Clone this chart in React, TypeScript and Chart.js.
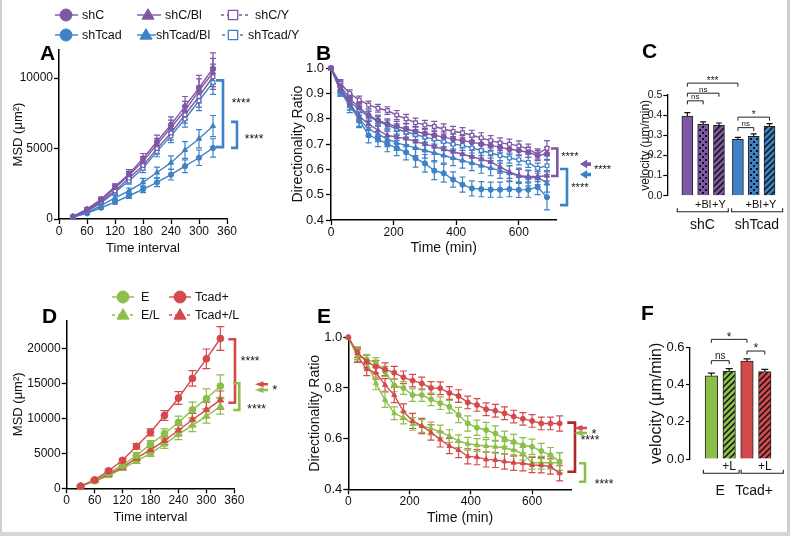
import React, { useEffect, useRef } from "react";
import { Chart, registerables } from "chart.js";

Chart.register(...registerables);

const W = 790;
const H = 536;
const FONT = '"Liberation Sans", Arial, Helvetica, sans-serif';
const PURPLE = "#7e57a5";
const BLUE = "#3d82c6";
const GREEN = "#8bbf4a";
const RED = "#d44a4c";
const DARKRED = "#b0262d";

// ---------------- Panel A : MSD (shC / shTcad) ----------------
const A_TIME = [30, 60, 90, 120, 150, 180, 210, 240, 270, 300, 330];
const A_SHC = [180, 700, 1400, 2300, 3200, 4300, 5500, 6700, 8000, 9300, 10700];
const A_SHC_ERR = [60, 100, 150, 200, 300, 350, 450, 550, 700, 900, 1100];
const A_SHC_BL = [170, 650, 1300, 2200, 3100, 4100, 5300, 6500, 7700, 9100, 10400];
const A_SHC_BL_ERR = [50, 90, 140, 200, 280, 330, 420, 520, 650, 850, 1000];
const A_SHC_Y = [170, 600, 1200, 2000, 2900, 3800, 5000, 6100, 7400, 8700, 10100];
const A_SHC_Y_ERR = [50, 90, 130, 180, 250, 320, 400, 500, 600, 750, 900];
const A_TCAD = [130, 400, 800, 1200, 1650, 2100, 2600, 3150, 3750, 4350, 5050];
const A_TCAD_ERR = [40, 60, 90, 130, 180, 230, 300, 380, 450, 550, 650];
const A_TCAD_BL = [140, 450, 950, 1500, 2000, 2600, 3300, 4000, 4900, 5700, 6600];
const A_TCAD_BL_ERR = [40, 70, 110, 150, 200, 280, 380, 480, 600, 650, 750];
const A_TCAD_Y = [150, 550, 1150, 1900, 2700, 3600, 4800, 5900, 7100, 8400, 9700];
const A_TCAD_Y_ERR = [50, 80, 120, 170, 230, 300, 380, 470, 570, 700, 850];
const A_X_TICKS = [0, 60, 120, 180, 240, 300, 360];
const A_Y_TICKS = [0, 5000, 10000];

// ---------------- Panel B : directionality (shC / shTcad) ----------------
const B_TIME = [0, 30, 60, 90, 120, 150, 180, 210, 240, 270, 300, 330, 360, 390, 420, 450, 480, 510, 540, 570, 600, 630, 660, 690];
const B_SHC = [1.0, 0.93, 0.88, 0.845, 0.815, 0.795, 0.78, 0.77, 0.76, 0.75, 0.742, 0.735, 0.728, 0.72, 0.714, 0.708, 0.7, 0.695, 0.688, 0.68, 0.675, 0.668, 0.655, 0.662];
const B_SHC_ERR = [0, 0.02, 0.02, 0.02, 0.02, 0.02, 0.02, 0.02, 0.02, 0.02, 0.02, 0.02, 0.02, 0.02, 0.02, 0.02, 0.02, 0.02, 0.02, 0.02, 0.02, 0.02, 0.02, 0.025];
const B_SHC_BL = [1.0, 0.92, 0.86, 0.81, 0.78, 0.755, 0.735, 0.728, 0.722, 0.71, 0.7, 0.69, 0.68, 0.67, 0.66, 0.65, 0.64, 0.63, 0.61, 0.59, 0.575, 0.572, 0.572, 0.575];
const B_SHC_BL_ERR = [0, 0.025, 0.025, 0.025, 0.025, 0.025, 0.025, 0.025, 0.025, 0.025, 0.025, 0.025, 0.025, 0.025, 0.025, 0.025, 0.025, 0.025, 0.025, 0.025, 0.025, 0.025, 0.02, 0.02];
const B_SHC_Y = [1.0, 0.94, 0.9, 0.875, 0.855, 0.842, 0.833, 0.815, 0.8, 0.785, 0.776, 0.77, 0.76, 0.75, 0.745, 0.735, 0.725, 0.714, 0.705, 0.7, 0.693, 0.68, 0.661, 0.684];
const B_SHC_Y_ERR = [0, 0.015, 0.015, 0.015, 0.015, 0.015, 0.015, 0.018, 0.018, 0.018, 0.018, 0.02, 0.02, 0.02, 0.02, 0.02, 0.02, 0.02, 0.02, 0.02, 0.02, 0.02, 0.02, 0.03];
const B_TCAD = [1.0, 0.91, 0.86, 0.795, 0.735, 0.72, 0.7, 0.685, 0.668, 0.644, 0.624, 0.595, 0.585, 0.56, 0.54, 0.525, 0.522, 0.52, 0.52, 0.522, 0.519, 0.52, 0.53, 0.49];
const B_TCAD_ERR = [0, 0.02, 0.025, 0.03, 0.03, 0.03, 0.03, 0.03, 0.03, 0.035, 0.035, 0.035, 0.035, 0.03, 0.03, 0.03, 0.03, 0.03, 0.03, 0.03, 0.03, 0.03, 0.03, 0.05];
const B_TCAD_BL = [1.0, 0.91, 0.85, 0.8, 0.76, 0.74, 0.72, 0.705, 0.695, 0.685, 0.675, 0.665, 0.655, 0.645, 0.635, 0.625, 0.615, 0.605, 0.595, 0.585, 0.575, 0.565, 0.57, 0.545];
const B_TCAD_BL_ERR = [0, 0.02, 0.025, 0.03, 0.03, 0.03, 0.03, 0.03, 0.03, 0.03, 0.03, 0.03, 0.03, 0.03, 0.03, 0.03, 0.03, 0.03, 0.03, 0.03, 0.03, 0.03, 0.03, 0.035];
const B_TCAD_Y = [1.0, 0.92, 0.87, 0.835, 0.81, 0.79, 0.775, 0.76, 0.748, 0.738, 0.728, 0.72, 0.71, 0.7, 0.695, 0.685, 0.675, 0.665, 0.655, 0.645, 0.638, 0.628, 0.605, 0.615];
const B_TCAD_Y_ERR = [0, 0.02, 0.02, 0.02, 0.02, 0.02, 0.02, 0.02, 0.02, 0.02, 0.02, 0.02, 0.02, 0.02, 0.02, 0.02, 0.02, 0.02, 0.02, 0.02, 0.02, 0.02, 0.02, 0.025];
const B_X_TICKS = [0, 200, 400, 600];
const B_Y_TICKS = [0.4, 0.5, 0.6, 0.7, 0.8, 0.9, 1.0];

// ---------------- Panel C : velocity bars ----------------
const C_GROUPS = ["shC", "shTcad"];
const C_TREATMENTS = ["", "+Bl", "+Y"];
const C_VALUES = [0.395, 0.355, 0.35, 0.28, 0.295, 0.345];
const C_ERR = [0.017, 0.012, 0.011, 0.01, 0.012, 0.013];
const C_Y_TICKS = [0.0, 0.1, 0.2, 0.3, 0.4, 0.5];
const C_SIG = [
  { a: 0, b: 3, y: 0.559, t: "***" },
  { a: 0, b: 2, y: 0.509, t: "ns" },
  { a: 0, b: 1, y: 0.471, t: "ns" },
  { a: 3, b: 5, y: 0.39, t: "*" },
  { a: 3, b: 4, y: 0.338, t: "ns" },
];

// ---------------- Panel D : MSD (E / Tcad+) ----------------
const D_TIME = [30, 60, 90, 120, 150, 180, 210, 240, 270, 300, 330];
const D_E = [300, 1100, 2200, 3300, 4700, 6300, 7800, 9400, 11200, 12800, 14600];
const D_E_ERR = [100, 150, 200, 300, 400, 500, 700, 900, 1100, 1400, 1600];
const D_EL = [300, 1000, 1800, 2800, 3900, 5000, 6300, 7700, 9000, 10300, 11700];
const D_EL_ERR = [100, 150, 200, 250, 350, 450, 600, 750, 900, 1000, 1100];
const D_TCAD = [300, 1200, 2500, 4000, 6000, 8000, 10400, 12900, 15700, 18500, 21400];
const D_TCAD_ERR = [100, 150, 200, 250, 400, 500, 700, 900, 1100, 1400, 1700];
const D_TCADL = [300, 1100, 2000, 3000, 4300, 5500, 6800, 8300, 9800, 11200, 12600];
const D_TCADL_ERR = [100, 150, 200, 250, 350, 450, 550, 700, 900, 1100, 1300];
const D_X_TICKS = [0, 60, 120, 180, 240, 300, 360];
const D_Y_TICKS = [0, 5000, 10000, 15000, 20000];

// ---------------- Panel E : directionality (E / Tcad+) ----------------
const E_TIME = [0, 30, 60, 90, 120, 150, 180, 210, 240, 270, 300, 330, 360, 390, 420, 450, 480, 510, 540, 570, 600, 630, 660, 690];
const E_TCAD = [1.0, 0.94, 0.904, 0.884, 0.874, 0.86, 0.842, 0.829, 0.818, 0.8, 0.799, 0.78, 0.768, 0.743, 0.733, 0.716, 0.71, 0.7, 0.687, 0.678, 0.67, 0.66, 0.66, 0.66];
const E_TCAD_ERR = [0, 0.02, 0.025, 0.025, 0.025, 0.025, 0.025, 0.025, 0.025, 0.025, 0.025, 0.025, 0.025, 0.025, 0.025, 0.025, 0.025, 0.025, 0.025, 0.025, 0.025, 0.025, 0.025, 0.03];
const E_E = [1.0, 0.93, 0.913, 0.9, 0.865, 0.81, 0.8, 0.772, 0.772, 0.755, 0.74, 0.726, 0.693, 0.66, 0.643, 0.634, 0.62, 0.6, 0.587, 0.574, 0.568, 0.551, 0.535, 0.51];
const E_E_ERR = [0, 0.025, 0.02, 0.02, 0.02, 0.025, 0.025, 0.025, 0.025, 0.025, 0.025, 0.025, 0.03, 0.03, 0.03, 0.03, 0.03, 0.03, 0.03, 0.03, 0.03, 0.03, 0.03, 0.035];
const E_EL = [1.0, 0.937, 0.904, 0.818, 0.753, 0.7, 0.683, 0.658, 0.65, 0.64, 0.628, 0.61, 0.59, 0.58, 0.575, 0.571, 0.568, 0.564, 0.555, 0.54, 0.505, 0.505, 0.505, 0.505];
const E_EL_ERR = [0, 0.025, 0.025, 0.025, 0.03, 0.025, 0.025, 0.025, 0.025, 0.025, 0.025, 0.025, 0.025, 0.025, 0.025, 0.025, 0.025, 0.025, 0.025, 0.025, 0.025, 0.025, 0.025, 0.04];
const E_TCADL = [1.0, 0.926, 0.874, 0.86, 0.812, 0.772, 0.707, 0.67, 0.65, 0.624, 0.597, 0.571, 0.555, 0.53, 0.527, 0.518, 0.516, 0.51, 0.505, 0.503, 0.496, 0.495, 0.49, 0.463];
const E_TCADL_ERR = [0, 0.025, 0.025, 0.025, 0.025, 0.03, 0.03, 0.03, 0.03, 0.03, 0.03, 0.03, 0.03, 0.03, 0.03, 0.03, 0.03, 0.03, 0.03, 0.03, 0.03, 0.03, 0.03, 0.03];
const E_X_TICKS = [0, 200, 400, 600];
const E_Y_TICKS = [0.4, 0.6, 0.8, 1.0];

// ---------------- Panel F : velocity bars ----------------
const F_GROUPS = ["E", "Tcad+"];
const F_TREATMENTS = ["", "+L"];
const F_VALUES = [0.449, 0.474, 0.528, 0.471];
const F_ERR = [0.014, 0.013, 0.012, 0.012];
const F_Y_TICKS = [0.0, 0.2, 0.4, 0.6];
const F_SIG = [
  { a: 0, b: 2, y: 0.645, t: "*" },
  { a: 0, b: 1, y: 0.53, t: "ns" },
  { a: 2, b: 3, y: 0.582, t: "*" },
];

// ---------------- drawing helpers ----------------
function drawMarker(ctx: any, style: string, x: number, y: number, r: number, color: string, open: boolean) {
  ctx.save();
  ctx.fillStyle = open ? "#fff" : color;
  ctx.strokeStyle = color;
  ctx.lineWidth = open ? 1.3 : 1;
  ctx.beginPath();
  if (style === "circle") {
    ctx.arc(x, y, r, 0, Math.PI * 2);
  } else if (style === "triangle") {
    ctx.moveTo(x, y - r * 1.15);
    ctx.lineTo(x + r * 1.1, y + r * 0.75);
    ctx.lineTo(x - r * 1.1, y + r * 0.75);
    ctx.closePath();
  } else {
    const s = r * 0.85;
    ctx.rect(x - s, y - s, 2 * s, 2 * s);
  }
  ctx.fill();
  ctx.stroke();
  ctx.restore();
}

function drawLegend(ctx: any, items: any[], size: number) {
  items.forEach((it) => {
    ctx.save();
    ctx.strokeStyle = it.color;
    ctx.lineWidth = 1.4;
    if (it.dashed) ctx.setLineDash([3, 3]);
    ctx.beginPath();
    ctx.moveTo(it.x0, it.y);
    ctx.lineTo(it.x1, it.y);
    ctx.stroke();
    ctx.restore();
    drawMarker(ctx, it.marker, it.mx, it.y, it.r, it.color, !!it.open);
    ctx.save();
    ctx.fillStyle = "#111";
    ctx.font = `${size}px ${FONT}`;
    ctx.textAlign = "left";
    ctx.textBaseline = "middle";
    ctx.fillText(it.label, it.tx, it.y + 0.5);
    ctx.restore();
  });
}

function drawLetter(ctx: any, t: string, x: number, y: number) {
  ctx.save();
  ctx.fillStyle = "#000";
  ctx.font = `bold 21px ${FONT}`;
  ctx.textAlign = "left";
  ctx.textBaseline = "alphabetic";
  ctx.fillText(t, x, y);
  ctx.restore();
}

function starText(ctx: any, t: string, x: number, cy: number, size: number, align = "center", color = "#111") {
  ctx.save();
  ctx.fillStyle = color;
  ctx.font = `${size}px ${FONT}`;
  ctx.textAlign = align;
  ctx.textBaseline = "alphabetic";
  ctx.fillText(t, x, cy + size * 0.55);
  ctx.restore();
}

function drawFlag(ctx: any, x: number, y: number, color: string, w = 11, h = 8) {
  ctx.save();
  ctx.fillStyle = color;
  ctx.beginPath();
  ctx.moveTo(x, y);
  ctx.lineTo(x + w * 0.65, y - h / 2);
  ctx.lineTo(x + w * 0.65, y - h * 0.2);
  ctx.lineTo(x + w, y - h * 0.2);
  ctx.lineTo(x + w, y + h * 0.2);
  ctx.lineTo(x + w * 0.65, y + h * 0.2);
  ctx.lineTo(x + w * 0.65, y + h / 2);
  ctx.closePath();
  ctx.fill();
  ctx.restore();
}

function drawLineDecor(chart: any, deco: any) {
  const ctx = chart.ctx;
  const sx = (v: number) => chart.scales.x.getPixelForValue(v);
  const sy = (v: number) => chart.scales.y.getPixelForValue(v);
  (deco.brackets || []).forEach((b: any) => {
    ctx.save();
    ctx.strokeStyle = b.color;
    ctx.lineWidth = b.width;
    ctx.lineJoin = "miter";
    ctx.beginPath();
    ctx.moveTo(sx(b.xArm), sy(b.y1));
    ctx.lineTo(sx(b.xLine), sy(b.y1));
    ctx.lineTo(sx(b.xLine), sy(b.y2));
    ctx.lineTo(sx(b.xArm), sy(b.y2));
    ctx.stroke();
    ctx.restore();
  });
  (deco.texts || []).forEach((t: any) => starText(ctx, t.t, sx(t.x), sy(t.y), t.size, t.align || "center"));
  (deco.flags || []).forEach((f: any) => drawFlag(ctx, sx(f.x), sy(f.y), f.color, f.w, f.h));
  if (deco.legend) drawLegend(ctx, deco.legend, deco.legendSize);
  if (deco.letter) drawLetter(ctx, deco.letter.t, deco.letter.x, deco.letter.y);
}

function linePlugin(id: string, capW: number, deco: any) {
  return {
    id,
    beforeDatasetsDraw(chart: any) {
      const ctx = chart.ctx;
      const ys = chart.scales.y;
      chart.data.datasets.forEach((ds: any, di: number) => {
        const meta = chart.getDatasetMeta(di);
        ctx.save();
        ctx.strokeStyle = ds.borderColor;
        ctx.lineWidth = 1.2;
        meta.data.forEach((pt: any, i: number) => {
          const v = ds.data[i].y;
          const e = ds.errors[i];
          if (!e) return;
          const yt = ys.getPixelForValue(v + e);
          const yb = ys.getPixelForValue(v - e);
          ctx.beginPath();
          ctx.moveTo(pt.x, yt);
          ctx.lineTo(pt.x, yb);
          ctx.moveTo(pt.x - capW / 2, yt);
          ctx.lineTo(pt.x + capW / 2, yt);
          ctx.moveTo(pt.x - capW / 2, yb);
          ctx.lineTo(pt.x + capW / 2, yb);
          ctx.stroke();
        });
        ctx.restore();
      });
    },
    afterDatasetsDraw(chart: any) {
      drawLineDecor(chart, deco);
    },
  };
}

function lineConfig(p: any) {
  const lh = p.titleSize * 1.2;
  const padLeft = p.yTitleX - lh / 2;
  const padBottom = H - p.xTitleY - lh / 2;
  return {
    type: "line",
    data: {
      datasets: p.series.map((s: any) => ({
        label: s.label,
        data: p.xs.map((x: number, i: number) => ({ x, y: s.data[i] })),
        errors: s.err,
        borderColor: s.color,
        backgroundColor: s.open ? "#fff" : s.color,
        pointBackgroundColor: s.open ? "#fff" : s.color,
        pointBorderColor: s.color,
        pointBorderWidth: s.open ? 1.2 : 1,
        pointStyle: s.marker,
        pointRadius: s.marker === "triangle" ? p.pointRadius + 0.4 : p.pointRadius,
        borderWidth: 1.4,
        tension: 0,
        clip: false,
      })),
    },
    options: {
      responsive: false,
      animation: false,
      devicePixelRatio: 1,
      events: [],
      layout: { padding: { left: padLeft, top: p.area.top, right: W - p.area.right, bottom: padBottom } },
      plugins: { legend: { display: false }, tooltip: { enabled: false }, title: { display: false } },
      scales: {
        x: {
          type: "linear",
          min: p.xMin,
          max: p.xMax,
          afterBuildTicks: (s: any) => {
            s.ticks = p.xTicks.map((v: number) => ({ value: v }));
          },
          afterFit: (s: any) => {
            s.height = H - padBottom - p.area.bottom;
          },
          grid: { display: true, drawOnChartArea: false, drawTicks: true, tickLength: 5, tickColor: "#000", tickWidth: 1.3 },
          border: { display: true, color: "#000", width: 1.5 },
          ticks: {
            color: "#111",
            font: { family: FONT, size: p.xTickSize },
            padding: 0,
            maxRotation: 0,
            autoSkip: false,
            callback: (v: any) => String(v),
          },
          title: { display: true, text: p.xTitle, color: "#111", font: { family: FONT, size: p.titleSize }, padding: 0 },
        },
        y: {
          type: "linear",
          min: p.yMin,
          max: p.yMax,
          afterBuildTicks: (s: any) => {
            s.ticks = p.yTicks.map((v: number) => ({ value: v }));
          },
          afterFit: (s: any) => {
            s.width = p.area.left - padLeft;
          },
          grid: { display: true, drawOnChartArea: false, drawTicks: true, tickLength: 5, tickColor: "#000", tickWidth: 1.3 },
          border: { display: true, color: "#000", width: 1.5 },
          ticks: {
            color: "#111",
            font: { family: FONT, size: p.yTickSize },
            padding: p.yTickPad,
            autoSkip: false,
            callback: (v: any) => (p.yDecimals ? Number(v).toFixed(p.yDecimals) : String(v)),
          },
          title: { display: true, text: p.yTitle, color: "#111", font: { family: FONT, size: p.titleSize }, padding: 0 },
        },
      },
    },
    plugins: [linePlugin(p.id, p.capW, p.deco)],
  };
}

function barPlugin(id: string, b: any) {
  return {
    id,
    afterDatasetsDraw(chart: any) {
      const ctx = chart.ctx;
      const ys = chart.scales.y;
      const xs = chart.scales.x;
      const meta = chart.getDatasetMeta(0);
      ctx.save();
      ctx.strokeStyle = "#111";
      ctx.lineWidth = 1.2;
      meta.data.forEach((bar: any, i: number) => {
        const top = ys.getPixelForValue(b.values[i] + b.errs[i]);
        ctx.beginPath();
        ctx.moveTo(bar.x, bar.y);
        ctx.lineTo(bar.x, top);
        ctx.moveTo(bar.x - b.capW / 2, top);
        ctx.lineTo(bar.x + b.capW / 2, top);
        ctx.stroke();
      });
      ctx.restore();
      // significance brackets
      b.sig.forEach((s: any) => {
        const xa = xs.getPixelForValue(b.positions[s.a]);
        const xb = xs.getPixelForValue(b.positions[s.b]);
        const y = ys.getPixelForValue(s.y);
        ctx.save();
        ctx.strokeStyle = "#222";
        ctx.lineWidth = 1;
        ctx.beginPath();
        ctx.moveTo(xa, y + 3.5);
        ctx.lineTo(xa, y);
        ctx.lineTo(xb, y);
        ctx.lineTo(xb, y + 3.5);
        ctx.stroke();
        ctx.fillStyle = "#222";
        const isNs = s.t === "ns";
        ctx.font = `${isNs ? b.nsSize : b.starSize}px ${FONT}`;
        ctx.textAlign = "center";
        ctx.textBaseline = "alphabetic";
        ctx.fillText(s.t, (xa + xb) / 2, isNs ? y - 1.5 : y + b.starSize * 0.1);
        ctx.restore();
      });
      // group brackets and labels
      b.groupSpans.forEach((g: any, gi: number) => {
        const x0 = xs.getPixelForValue(g[0]);
        const x1 = xs.getPixelForValue(g[1]);
        ctx.save();
        ctx.strokeStyle = "#222";
        ctx.lineWidth = 1.1;
        ctx.beginPath();
        ctx.moveTo(x0, b.groupY - 3.5);
        ctx.lineTo(x0, b.groupY);
        ctx.lineTo(x1, b.groupY);
        ctx.lineTo(x1, b.groupY - 3.5);
        ctx.stroke();
        ctx.fillStyle = "#111";
        ctx.font = `${b.groupSize}px ${FONT}`;
        ctx.textAlign = "center";
        ctx.textBaseline = "middle";
        ctx.fillText(b.groups[gi], xs.getPixelForValue(b.groupLabelX[gi]), b.groupLabelY);
        ctx.restore();
      });
      drawLetter(ctx, b.letter.t, b.letter.x, b.letter.y);
    },
  };
}

function barConfig(b: any) {
  const lh = b.titleSize * 1.2;
  const padLeft = b.yTitleX - lh / 2;
  return {
    type: "bar",
    data: {
      datasets: [
        {
          data: b.positions.map((x: number, i: number) => ({ x, y: b.values[i] })),
          backgroundColor: b.fills,
          borderColor: "#222",
          borderWidth: 1,
          barThickness: b.barThickness,
        },
      ],
    },
    options: {
      responsive: false,
      animation: false,
      devicePixelRatio: 1,
      events: [],
      layout: { padding: { left: padLeft, top: b.area.top, right: W - b.area.right, bottom: b.padBottom } },
      plugins: { legend: { display: false }, tooltip: { enabled: false } },
      scales: {
        x: {
          type: "linear",
          offset: false,
          min: b.xMin,
          max: b.xMax,
          grid: { display: false, drawTicks: false, tickLength: 0, offset: false },
          border: { display: false },
          afterBuildTicks: (s: any) => {
            s.ticks = b.tickPositions.map((v: number) => ({ value: v }));
          },
          afterFit: (s: any) => {
            s.height = H - b.padBottom - b.area.bottom;
          },
          ticks: {
            autoSkip: false,
            maxRotation: 0,
            padding: b.xTickPad,
            color: "#111",
            font: { family: FONT, size: b.xTickSize },
            callback: (_v: any, i: number) => b.tickLabels[i],
          },
        },
        y: {
          type: "linear",
          min: 0,
          max: b.yMax,
          afterBuildTicks: (s: any) => {
            s.ticks = b.yTicks.map((v: number) => ({ value: v }));
          },
          afterFit: (s: any) => {
            s.width = b.area.left - padLeft;
          },
          grid: { display: true, drawOnChartArea: false, drawTicks: true, tickLength: 4, tickColor: "#000", tickWidth: 1.2 },
          border: { display: true, color: "#000", width: 1.3 },
          ticks: {
            color: "#111",
            font: { family: FONT, size: b.yTickSize },
            padding: b.yTickPad,
            autoSkip: false,
            callback: (v: any) => Number(v).toFixed(1),
          },
          title: { display: true, text: "velocity (μm/min)", color: "#111", font: { family: FONT, size: b.titleSize }, padding: 0 },
        },
      },
    },
    plugins: [barPlugin(b.id, b)],
  };
}

function hatch(color: string) {
  const c = document.createElement("canvas");
  c.width = 6;
  c.height = 6;
  const g = c.getContext("2d")!;
  g.fillStyle = color;
  g.fillRect(0, 0, 6, 6);
  g.strokeStyle = "#111";
  g.lineWidth = 1.5;
  g.beginPath();
  g.moveTo(-1, 7);
  g.lineTo(7, -1);
  g.moveTo(-4, 4);
  g.lineTo(4, -4);
  g.moveTo(2, 10);
  g.lineTo(10, 2);
  g.stroke();
  return g.createPattern(c, "repeat");
}

function checker(color: string) {
  const c = document.createElement("canvas");
  c.width = 6;
  c.height = 6;
  const g = c.getContext("2d")!;
  g.fillStyle = color;
  g.fillRect(0, 0, 6, 6);
  g.fillStyle = "#111";
  g.fillRect(0, 0, 2, 2);
  g.fillRect(3, 3, 2, 2);
  return g.createPattern(c, "repeat");
}

function buildConfigs() {
  // ---- A ----
  const cfgA = lineConfig({
    id: "decoA",
    xs: A_TIME,
    series: [
      { label: "shC", data: A_SHC, err: A_SHC_ERR, color: PURPLE, marker: "circle" },
      { label: "shC/Bl", data: A_SHC_BL, err: A_SHC_BL_ERR, color: PURPLE, marker: "triangle" },
      { label: "shC/Y", data: A_SHC_Y, err: A_SHC_Y_ERR, color: PURPLE, marker: "rect", open: true },
      { label: "shTcad/Y", data: A_TCAD_Y, err: A_TCAD_Y_ERR, color: BLUE, marker: "rect", open: true },
      { label: "shTcad/Bl", data: A_TCAD_BL, err: A_TCAD_BL_ERR, color: BLUE, marker: "triangle" },
      { label: "shTcad", data: A_TCAD, err: A_TCAD_ERR, color: BLUE, marker: "circle" },
    ],
    area: { left: 59, right: 227, top: 50, bottom: 219 },
    xMin: 0, xMax: 360, xTicks: A_X_TICKS,
    yMin: 0, yMax: 12000, yTicks: A_Y_TICKS, yDecimals: 0,
    xTitle: "Time interval", yTitle: "MSD (μm²)",
    titleSize: 13, xTickSize: 12, yTickSize: 12, yTickPad: 1,
    xTitleY: 248, yTitleX: 18,
    pointRadius: 2.6, capW: 6,
    deco: {
      brackets: [
        { xArm: 336.4, xLine: 351.4, y1: 9843, y2: 5103, color: BLUE, width: 2.6 },
        { xArm: 368.6, xLine: 381.4, y1: 6900, y2: 5050, color: BLUE, width: 2.6 },
      ],
      texts: [
        { t: "****", x: 390, y: 8400, size: 12 },
        { t: "****", x: 418, y: 5900, size: 12 },
      ],
      legendSize: 12.5,
      legend: [
        { label: "shC", color: PURPLE, marker: "circle", x0: 55, x1: 78, mx: 66, tx: 82, y: 15, r: 6 },
        { label: "shC/Bl", color: PURPLE, marker: "triangle", x0: 137, x1: 161, mx: 148, tx: 165, y: 15, r: 5.5 },
        { label: "shC/Y", color: PURPLE, marker: "rect", open: true, dashed: true, x0: 221, x1: 250, mx: 233, tx: 255, y: 15, r: 5.5 },
        { label: "shTcad", color: BLUE, marker: "circle", x0: 55, x1: 78, mx: 66, tx: 82, y: 35, r: 6 },
        { label: "shTcad/Bl", color: BLUE, marker: "triangle", x0: 137, x1: 156, mx: 146, tx: 156, y: 35, r: 5.5 },
        { label: "shTcad/Y", color: BLUE, marker: "rect", open: true, dashed: true, x0: 222, x1: 245, mx: 233, tx: 248, y: 35, r: 5.5 },
      ],
      letter: { t: "A", x: 40, y: 60 },
    },
  });

  // ---- B ----
  const cfgB = lineConfig({
    id: "decoB",
    xs: B_TIME,
    series: [
      { label: "shC", data: B_SHC, err: B_SHC_ERR, color: PURPLE, marker: "circle" },
      { label: "shC/Bl", data: B_SHC_BL, err: B_SHC_BL_ERR, color: PURPLE, marker: "triangle" },
      { label: "shC/Y", data: B_SHC_Y, err: B_SHC_Y_ERR, color: PURPLE, marker: "rect", open: true },
      { label: "shTcad/Y", data: B_TCAD_Y, err: B_TCAD_Y_ERR, color: BLUE, marker: "rect", open: true },
      { label: "shTcad/Bl", data: B_TCAD_BL, err: B_TCAD_BL_ERR, color: BLUE, marker: "triangle" },
      { label: "shTcad", data: B_TCAD, err: B_TCAD_ERR, color: BLUE, marker: "circle" },
    ],
    area: { left: 331, right: 556.4, top: 68.3, bottom: 220 },
    xMin: 0, xMax: 720, xTicks: B_X_TICKS,
    yMin: 0.4, yMax: 1.0, yTicks: B_Y_TICKS, yDecimals: 1,
    xTitle: "Time (min)", yTitle: "Directionality Ratio",
    titleSize: 14, xTickSize: 12, yTickSize: 13, yTickPad: 2,
    xTitleY: 248, yTitleX: 298,
    pointRadius: 2.6, capW: 6,
    deco: {
      brackets: [
        { xArm: 702.7, xLine: 722.9, y1: 0.683, y2: 0.574, color: PURPLE, width: 2.6 },
        { xArm: 731.5, xLine: 753.9, y1: 0.602, y2: 0.459, color: BLUE, width: 2.6 },
      ],
      texts: [
        { t: "****", x: 763, y: 0.661, size: 11 },
        { t: "****", x: 795, y: 0.538, size: 11 },
        { t: "****", x: 840, y: 0.608, size: 11, align: "left" },
      ],
      flags: [
        { x: 795.4, y: 0.621, color: PURPLE, w: 11, h: 9 },
        { x: 795.4, y: 0.58, color: BLUE, w: 11, h: 9 },
      ],
      letter: { t: "B", x: 316, y: 60 },
    },
  });

  // ---- D ----
  const cfgD = lineConfig({
    id: "decoD",
    xs: D_TIME,
    series: [
      { label: "Tcad+", data: D_TCAD, err: D_TCAD_ERR, color: RED, marker: "circle" },
      { label: "E", data: D_E, err: D_E_ERR, color: GREEN, marker: "circle" },
      { label: "Tcad+/L", data: D_TCADL, err: D_TCADL_ERR, color: RED, marker: "triangle" },
      { label: "E/L", data: D_EL, err: D_EL_ERR, color: GREEN, marker: "triangle" },
    ],
    area: { left: 66.7, right: 234.3, top: 320.3, bottom: 488.3 },
    xMin: 0, xMax: 360, xTicks: D_X_TICKS,
    yMin: 0, yMax: 24000, yTicks: D_Y_TICKS, yDecimals: 0,
    xTitle: "Time interval", yTitle: "MSD (μm²)",
    titleSize: 13, xTickSize: 12, yTickSize: 12, yTickPad: 1,
    xTitleY: 517, yTitleX: 18,
    pointRadius: 3.4, capW: 8,
    deco: {
      brackets: [
        { xArm: 347.1, xLine: 361.5, y1: 21286, y2: 12229, color: RED, width: 2.6 },
        { xArm: 357.8, xLine: 370.7, y1: 15000, y2: 11186, color: GREEN, width: 2.6 },
      ],
      texts: [
        { t: "****", x: 394, y: 18571, size: 12 },
        { t: "****", x: 408, y: 11657, size: 12 },
        { t: "*", x: 447, y: 14471, size: 13 },
      ],
      flags: [
        { x: 404.5, y: 14857, color: RED, w: 13, h: 6 },
        { x: 404.5, y: 14043, color: GREEN, w: 13, h: 6 },
      ],
      legendSize: 12.5,
      legend: [
        { label: "E", color: GREEN, marker: "circle", x0: 112, x1: 134, mx: 123, tx: 141, y: 297, r: 6 },
        { label: "Tcad+", color: RED, marker: "circle", x0: 169, x1: 191, mx: 180, tx: 195, y: 297, r: 6 },
        { label: "E/L", color: GREEN, marker: "triangle", dashed: true, x0: 112, x1: 134, mx: 123, tx: 141, y: 315, r: 5.5 },
        { label: "Tcad+/L", color: RED, marker: "triangle", dashed: true, x0: 169, x1: 191, mx: 180, tx: 195, y: 315, r: 5.5 },
      ],
      letter: { t: "D", x: 42, y: 323 },
    },
  });

  // ---- E ----
  const cfgE = lineConfig({
    id: "decoE",
    xs: E_TIME,
    series: [
      { label: "Tcad+", data: E_TCAD, err: E_TCAD_ERR, color: RED, marker: "circle" },
      { label: "E", data: E_E, err: E_E_ERR, color: GREEN, marker: "circle" },
      { label: "Tcad+/L", data: E_TCADL, err: E_TCADL_ERR, color: RED, marker: "triangle" },
      { label: "E/L", data: E_EL, err: E_EL_ERR, color: GREEN, marker: "triangle" },
    ],
    area: { left: 348.3, right: 571.9, top: 337.3, bottom: 489.3 },
    xMin: 0, xMax: 730, xTicks: E_X_TICKS,
    yMin: 0.4, yMax: 1.0, yTicks: E_Y_TICKS, yDecimals: 1,
    xTitle: "Time (min)", yTitle: "Directionality Ratio",
    titleSize: 14, xTickSize: 12, yTickSize: 13, yTickPad: 1,
    xTitleY: 518, yTitleX: 315,
    pointRadius: 2.5, capW: 7,
    deco: {
      brackets: [
        { xArm: 715, xLine: 740.1, y1: 0.663, y2: 0.469, color: DARKRED, width: 2.6 },
        { xArm: 753.2, xLine: 772.8, y1: 0.503, y2: 0.43, color: GREEN, width: 2.6 },
      ],
      texts: [
        { t: "****", x: 789, y: 0.606, size: 12 },
        { t: "****", x: 835, y: 0.433, size: 12 },
        { t: "*", x: 802, y: 0.632, size: 13 },
      ],
      flags: [
        { x: 736.8, y: 0.642, color: RED, w: 13, h: 6 },
        { x: 736.8, y: 0.622, color: GREEN, w: 13, h: 6 },
      ],
      letter: { t: "E", x: 317, y: 323 },
    },
  });

  // ---- C ----
  const cPositions: number[] = [];
  const cFills: any[] = [];
  const cTickPos: number[] = [];
  const cTickLab: string[] = [];
  C_GROUPS.forEach((_g, gi) => {
    const col = gi === 0 ? PURPLE : BLUE;
    C_TREATMENTS.forEach((t, ti) => {
      const pos = 1 + gi * 3.2 + ti;
      cPositions.push(pos);
      cFills.push(ti === 0 ? col : ti === 1 ? checker(col) : hatch(col));
      if (t) {
        cTickPos.push(pos);
        cTickLab.push(t);
      }
    });
  });
  const cfgC = barConfig({
    id: "decoC",
    positions: cPositions,
    values: C_VALUES,
    errs: C_ERR,
    fills: cFills,
    tickPositions: cTickPos,
    tickLabels: cTickLab,
    area: { left: 667.3, right: 779, top: 95, bottom: 195.7 },
    padBottom: H - 215,
    xMin: -0.27, xMax: 6.8,
    yMax: 0.5, yTicks: C_Y_TICKS,
    titleSize: 12, yTitleX: 646, yTickSize: 10.5, yTickPad: 1, xTickSize: 11, xTickPad: 3,
    barThickness: 11, capW: 6,
    sig: C_SIG, nsSize: 8, starSize: 10,
    groups: C_GROUPS,
    groupSpans: [[0.36, 3.59], [3.8, 7.03]],
    groupLabelX: [1.96, 5.4],
    groupY: 211.7, groupLabelY: 225, groupSize: 14,
    letter: { t: "C", x: 642, y: 58 },
  });

  // ---- F ----
  const fPositions: number[] = [];
  const fFills: any[] = [];
  const fTickPos: number[] = [];
  const fTickLab: string[] = [];
  F_GROUPS.forEach((_g, gi) => {
    const col = gi === 0 ? GREEN : RED;
    F_TREATMENTS.forEach((t, ti) => {
      const pos = 1 + gi * 2 + ti;
      fPositions.push(pos);
      fFills.push(ti === 0 ? col : hatch(col));
      if (t) {
        fTickPos.push(pos);
        fTickLab.push(t);
      }
    });
  });
  const cfgF = barConfig({
    id: "decoF",
    positions: fPositions,
    values: F_VALUES,
    errs: F_ERR,
    fills: fFills,
    tickPositions: fTickPos,
    tickLabels: fTickLab,
    area: { left: 690, right: 782.6, top: 347.7, bottom: 459 },
    padBottom: H - 478,
    xMin: -0.2, xMax: 5,
    yMax: 0.6, yTicks: F_Y_TICKS,
    titleSize: 16, yTitleX: 656.7, yTickSize: 13, yTickPad: 1.5, xTickSize: 12, xTickPad: 0.5,
    barThickness: 12.5, capW: 7,
    sig: F_SIG, nsSize: 10, starSize: 12,
    groups: F_GROUPS,
    groupSpans: [[0.55, 2.56], [2.67, 5.04]],
    groupLabelX: [1.5, 3.4],
    groupY: 473.3, groupLabelY: 491, groupSize: 14,
    letter: { t: "F", x: 641, y: 320 },
  });

  return [cfgA, cfgB, cfgC, cfgD, cfgE, cfgF];
}

export default function App() {
  const r0 = useRef<HTMLCanvasElement>(null);
  const r1 = useRef<HTMLCanvasElement>(null);
  const r2 = useRef<HTMLCanvasElement>(null);
  const r3 = useRef<HTMLCanvasElement>(null);
  const r4 = useRef<HTMLCanvasElement>(null);
  const r5 = useRef<HTMLCanvasElement>(null);
  const refs = [r0, r1, r2, r3, r4, r5];

  useEffect(() => {
    const cfgs = buildConfigs();
    const charts = cfgs.map((cfg, i) => new Chart(refs[i].current as HTMLCanvasElement, cfg as any));
    return () => charts.forEach((c) => c.destroy());
  }, []);

  return (
    <div
      style={{
        position: "absolute",
        left: 0,
        top: 0,
        width: W,
        height: H,
        background: "#ffffff",
        overflow: "hidden",
      }}
    >
      {refs.map((r, i) => (
        <canvas
          key={i}
          ref={r}
          width={W}
          height={H}
          style={{ position: "absolute", left: 0, top: 0, width: W, height: H }}
        />
      ))}
      <div style={{ position: "absolute", left: 0, top: 0, width: 2, height: H, background: "#cfcfcf" }} />
      <div style={{ position: "absolute", right: 0, top: 0, width: 3, height: H, background: "#cfcfcf" }} />
      <div style={{ position: "absolute", left: 0, bottom: 0, width: W, height: 4, background: "#d6d6d6" }} />
    </div>
  );
}
